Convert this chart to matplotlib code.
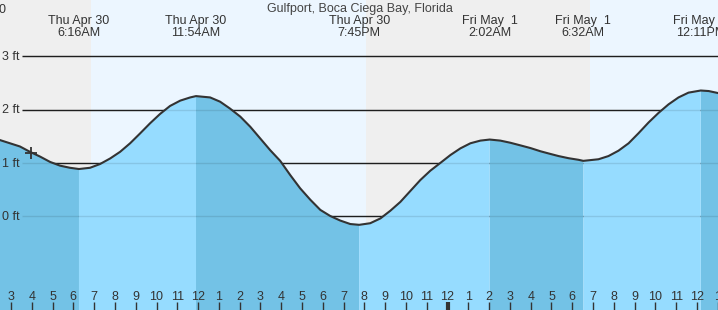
import numpy as np
import matplotlib
matplotlib.use("Agg")
import matplotlib.pyplot as plt

plt.rcParams['font.family'] = ['Liberation Sans', 'DejaVu Sans']

# tide height (ft) vs hours since midnight Thu Apr 30
hours = [2.47, 3.43, 3.91, 4.40, 4.88, 5.36, 5.84, 6.27, 6.80, 7.28, 7.77, 8.25,
         8.73, 9.21, 9.69, 10.17, 10.65, 11.14, 11.62, 11.90, 12.58, 13.06, 13.54,
         14.03, 14.51, 14.99, 15.47, 15.95, 16.43, 16.91, 17.40, 17.88, 18.36, 18.84,
         19.32, 19.75, 20.28, 20.77, 21.25, 21.73, 22.21, 22.69, 23.17, 23.65, 24.14,
         24.62, 25.10, 25.58, 26.03, 26.54, 27.02, 27.51, 27.99, 28.47, 28.85, 29.34,
         29.82, 30.30, 30.53, 31.26, 31.74, 32.22, 32.71, 33.19, 33.67, 34.15, 34.63,
         35.11, 35.59, 36.18, 36.56, 37.04]
height = [1.43, 1.31, 1.21, 1.12, 1.02, 0.95, 0.91, 0.887, 0.91, 0.98, 1.085, 1.21,
          1.37, 1.555, 1.745, 1.92, 2.07, 2.17, 2.23, 2.255, 2.23, 2.15, 2.02,
          1.87, 1.68, 1.46, 1.24, 1.04, 0.775, 0.525, 0.31, 0.12, 0.005, -0.08,
          -0.145, -0.16, -0.13, -0.04, 0.105, 0.27, 0.475, 0.68, 0.855, 1.0, 1.15,
          1.275, 1.37, 1.42, 1.44, 1.42, 1.38, 1.33, 1.28, 1.22, 1.18, 1.13,
          1.09, 1.06, 1.04, 1.07, 1.13, 1.23, 1.37, 1.56, 1.76, 1.94, 2.10,
          2.23, 2.32, 2.36, 2.35, 2.31]

# high / low events
event_hours = [6.27, 11.90, 19.75, 26.03, 30.53, 36.18]
event_day = ["Thu Apr 30", "Thu Apr 30", "Thu Apr 30", "Fri May  1", "Fri May  1", "Fri May  1"]
event_time = ["6:16AM", "11:54AM", "7:45PM", "2:02AM", "6:32AM", "12:11PM"]

# sunrise / sunset
night_spans = [(2.40, 6.85), (20.09, 30.87)]
day_spans = [(6.85, 20.09), (30.87, 37.10)]

ft_levels = [3, 2, 1, 0]
ft_labels = ["3 ft", "2 ft", "1 ft", "0 ft"]

hour_ticks = list(range(3, 38))
hour_labels = ["3", "4", "5", "6", "7", "8", "9", "10", "11", "12", "1", "2", "3", "4",
               "5", "6", "7", "8", "9", "10", "11", "12", "1", "2", "3", "4", "5", "6",
               "7", "8", "9", "10", "11", "12", "1"]

t = np.array(hours)
h = np.array(height)

fig = plt.figure(figsize=(7.18, 3.10), dpi=100)
ax = fig.add_axes([0, 0, 1, 1])
ax.axis("off")
pxh = 20.79  # pixels per hour
px = 53.3    # pixels per ft
x0, x1 = 2.471, 37.01
y0, y1 = -1.758, 4.058
ax.set_xlim(x0, x1)
ax.set_ylim(y0, y1)

for a, b in night_spans:
    ax.axvspan(a, b, color="#efefef", lw=0, zorder=0)
for a, b in day_spans:
    ax.axvspan(a, b, color="#ecf6ff", lw=0, zorder=0)

ax.hlines(ft_levels, x0 + 22 / pxh, x1, color="#222222", lw=1, zorder=1)

# falling tide darker, rising lighter
falling = np.zeros(len(t), bool)
bounds = [-np.inf] + event_hours + [np.inf]
for i in range(len(bounds) - 1):
    if i % 2 == 0:
        falling |= (t >= bounds[i]) & (t <= bounds[i + 1])
rising = ~falling
for e in event_hours:
    rising |= np.isclose(t, e)
ax.fill_between(t, h, y0, where=falling, color="#73c2e6", lw=0, zorder=2)
ax.fill_between(t, h, y0, where=rising, color="#96dcff", lw=0, zorder=2)
ax.hlines(ft_levels, x0 + 22 / pxh, x1, color="#000000", lw=1, alpha=0.1, zorder=3)

ax.plot(t, h, color="#333333", lw=1.5, zorder=4, solid_joinstyle="round")
ax.plot([3.96], [1.19], marker="+", ms=8, mew=1.3, color="#333333", zorder=5)

for lv, lb in zip(ft_levels, ft_labels):
    ax.text(x0 + 2.5 / pxh, lv - 3.7 / px, lb, ha="left", va="baseline",
            fontsize=9, color="#333333", zorder=6)

ax.text(0.5007, 1 - 12 / 310, "Gulfport, Boca Ciega Bay, Florida", transform=ax.transAxes,
        ha="center", va="baseline", fontsize=9, color="#444444")
ax.text(-1.5 / 718, 1 - 13 / 310, "0", transform=ax.transAxes, ha="left", va="baseline",
        fontsize=9, color="#333333")
for e, d, tm in zip(event_hours, event_day, event_time):
    ax.text(e, 1 - 24 / 310, d, transform=ax.get_xaxis_transform(), ha="center",
            va="baseline", fontsize=9, color="#333333")
    ax.text(e, 1 - 36 / 310, tm, transform=ax.get_xaxis_transform(), ha="center",
            va="baseline", fontsize=9, color="#333333")

tick_top = y0 + 8 / px
for hr, lb in zip(hour_ticks, hour_labels):
    ax.vlines(hr, y0, tick_top, color="#333333", lw=3 if hr == 24 else 1, zorder=6)
    ax.text(hr, y0 + 10 / px, lb, ha="center", va="baseline", fontsize=9,
            color="#333333", zorder=6)

fig.savefig("out.png", dpi=100)
